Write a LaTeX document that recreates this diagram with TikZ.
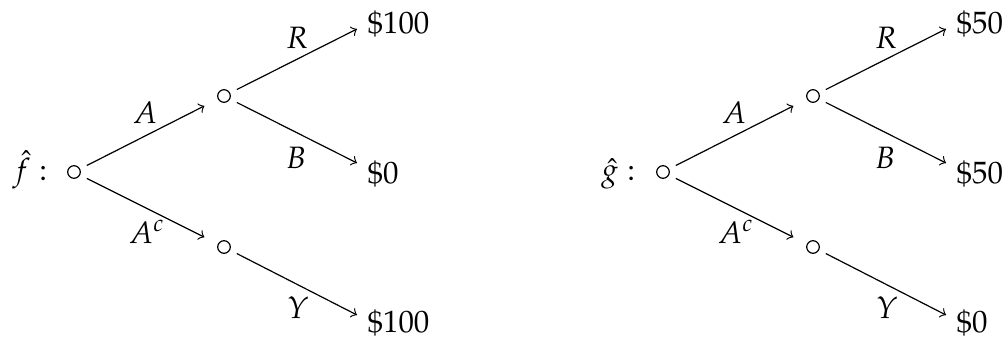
\documentclass[tikz,border=0pt]{standalone}
\usepackage[T1]{fontenc}
\usepackage{mathpazo}
\begin{document}
\begin{tikzpicture}[x=0.33333pt,y=-0.33333pt,
  every node/.style={font=\fontsize{10.3}{12.4}\selectfont},
  state/.style={circle,draw,line width=0.4pt,minimum size=4.2pt,inner sep=0pt},
  edge/.style={->,line width=0.4pt,shorten <=2.5pt},
  inneredge/.style={edge,shorten >=5pt},
  lab/.style={inner sep=0pt,anchor=base},
  leaf/.style={inner sep=0pt,anchor=base west}]
\useasboundingbox (0,0) rectangle (1008,341);
% ---------- left tree ----------
\node[inner sep=0pt,anchor=base east] (fl) at (48,180) {$\hat{f}:$};
\node[state] (r1) at (74,172) {};
\node[state] (m1) at (224,96) {};
\node[state] (m2) at (224,247) {};
\coordinate (e1) at (357,29);
\coordinate (e2) at (357,163);
\coordinate (e3) at (357,315);
\node[leaf] (l1) at (367,33) {\$100};
\node[leaf] (l2) at (367,183) {\$0};
\node[leaf] (l3) at (367,332) {\$100};
\draw[inneredge] (r1) -- (m1);
\draw[inneredge] (r1) -- (m2);
\draw[edge] (m1) -- (e1);
\draw[edge] (m1) -- (e2);
\draw[edge] (m2) -- (e3);
\node[lab] (la1) at (145,123) {$A$};
\node[lab] (lr1) at (297,48) {$R$};
\node[lab] (lb1) at (296,168) {$B$};
\node[inner sep=0pt,anchor=base west] (lc1) at (128,243) {$A^c$};
\node[lab] (ly1) at (298,318) {$Y$};
% ---------- right tree ----------
\node[inner sep=0pt,anchor=base east] (gl) at (636,180) {$\hat{g}:$};
\node[state] (r2) at (663,172) {};
\node[state] (m3) at (813,96) {};
\node[state] (m4) at (813,247) {};
\coordinate (e4) at (946,29);
\coordinate (e5) at (946,163);
\coordinate (e6) at (946,315);
\node[leaf] (l4) at (956,33) {\$50};
\node[leaf] (l5) at (956,183) {\$50};
\node[leaf] (l6) at (956,332) {\$0};
\draw[inneredge] (r2) -- (m3);
\draw[inneredge] (r2) -- (m4);
\draw[edge] (m3) -- (e4);
\draw[edge] (m3) -- (e5);
\draw[edge] (m4) -- (e6);
\node[lab] (la2) at (734,123) {$A$};
\node[lab] (lr2) at (886,48) {$R$};
\node[lab] (lb2) at (885,168) {$B$};
\node[inner sep=0pt,anchor=base west] (lc2) at (717,243) {$A^c$};
\node[lab] (ly2) at (887,318) {$Y$};
\end{tikzpicture}
\end{document}
